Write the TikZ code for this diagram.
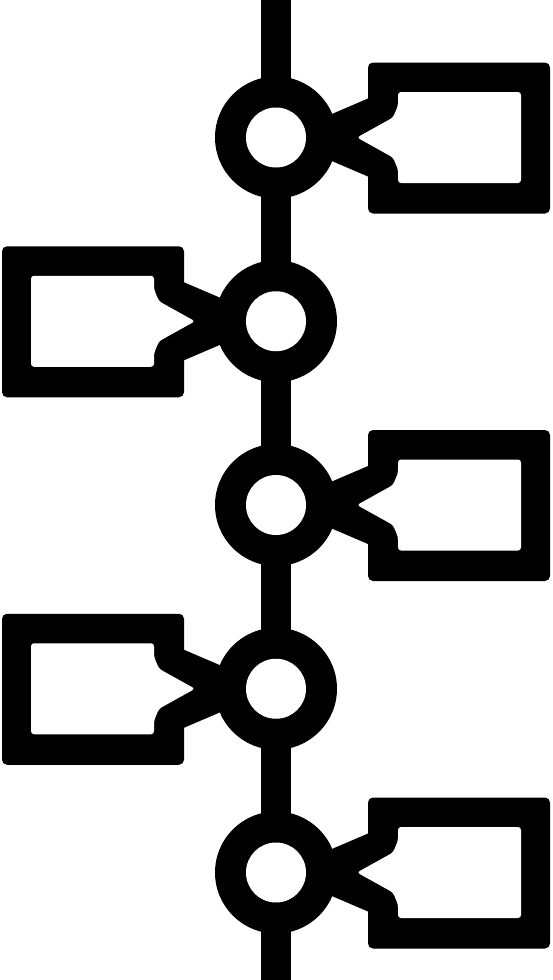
\documentclass[tikz,border=0pt]{standalone}
\begin{document}
\begin{tikzpicture}[x=1pt,y=-1pt,
  ink/.style={fill=black},
  hole/.style={fill=white}]
\useasboundingbox[fill=white] (0,0) rectangle (552,980);
% spine
\fill[ink] (261,0) rectangle (291,980);
\foreach \k/\s in {0/1,1/-1,2/1,3/-1,4/1}{
  \begin{scope}[shift={(276,137.5+183.75*\k)}, xscale=\s]
    \coordinate (c\k) at (0,0);
    % ring
    \fill[ink] (c\k) circle (61);
    % tag body
    \fill[ink, rounded corners=5] (92,-75) rectangle (274,76);
    \fill[ink] (92,-39) -- (57,-24) -- (20,0) -- (57,24) -- (92,39) -- cycle;
    % holes
    \fill[hole] (c\k) circle (30);
    \fill[hole, rounded corners=3] (122,-45.5) -- (245,-45.5) -- (245,45.5) -- (122,45.5)
      -- (122,32) -- (117,20) -- (81,0) -- (117,-20) -- (122,-32) -- cycle;
  \end{scope}
}
\end{tikzpicture}
\end{document}
